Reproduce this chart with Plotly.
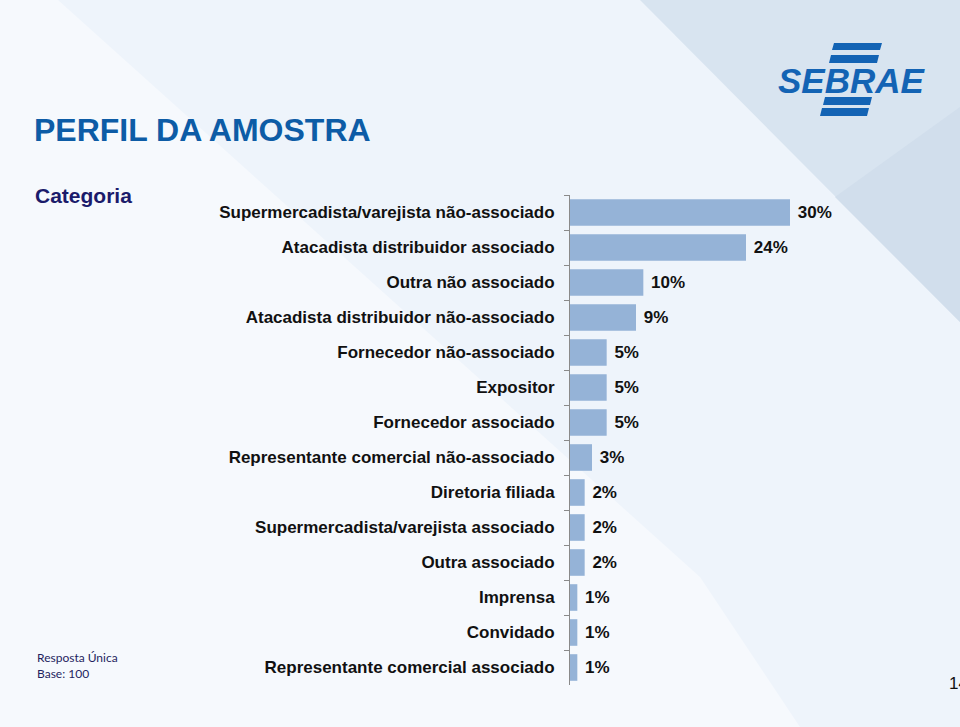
import plotly.graph_objects as go

categories = [
    "Supermercadista/varejista não-associado",
    "Atacadista distribuidor associado",
    "Outra não associado",
    "Atacadista distribuidor não-associado",
    "Fornecedor não-associado",
    "Expositor",
    "Fornecedor associado",
    "Representante comercial não-associado",
    "Diretoria filiada",
    "Supermercadista/varejista associado",
    "Outra associado",
    "Imprensa",
    "Convidado",
    "Representante comercial associado",
]
values = [30, 24, 10, 9, 5, 5, 5, 3, 2, 2, 2, 1, 1, 1]
value_labels = [f"\u00a0{v}%" for v in values]

W, H = 960, 727
ML, MR, MT, MB = 570, 126, 195, 42
PW, PH = W - ML - MR, H - MT - MB


def px(x):
    return (x - ML) / PW


def py(y):
    return 1 - (y - MT) / PH


def path(points):
    return "M " + " L ".join(f"{px(a):.5f},{py(b):.5f}" for a, b in points) + " Z"


FONT = "Liberation Sans, Arial, sans-serif"

fig = go.Figure(
    go.Bar(
        x=values,
        y=categories,
        orientation="h",
        marker=dict(color="#95b3d7", line=dict(width=0)),
        text=value_labels,
        textposition="outside",
        textfont=dict(family=FONT, size=17, color="#111111", weight="bold"),
        cliponaxis=False,
        hoverinfo="skip",
    )
)

shapes = []
# background decorations
shapes.append(dict(type="path", path=path([(0, 0), (58, 0), (700, 577), (800, 727), (0, 727)]),
                   xref="paper", yref="paper", fillcolor="#f6f9fd", line=dict(width=0), layer="below"))
shapes.append(dict(type="path", path=path([(640, 0), (960, 0), (960, 322)]),
                   xref="paper", yref="paper", fillcolor="#d8e4f0", line=dict(width=0), layer="below"))
shapes.append(dict(type="path", path=path([(960, 107), (835, 197), (960, 322)]),
                   xref="paper", yref="paper", fillcolor="#d1deec", line=dict(width=0), layer="below"))

# SEBRAE logo bars
LOGO = "#1363b4"
for (x0, x1, y0, y1) in [(832, 880, 43, 50), (829, 877, 55, 63), (823, 870, 97, 105), (820, 867, 108, 116)]:
    sl = 2
    shapes.append(dict(type="path", path=path([(x0 + sl, y0), (x1 + sl, y0), (x1, y1), (x0, y1)]),
                       xref="paper", yref="paper", fillcolor=LOGO, line=dict(width=0), layer="above"))

annotations = [
    dict(text="<b>PERFIL DA AMOSTRA</b>", x=px(32), y=py(130), xanchor="left", yanchor="middle",
         font=dict(family=FONT, size=32, color="#0d5ca6")),
    dict(text="<b>Categoria</b>", x=px(33), y=py(195), xanchor="left", yanchor="middle",
         font=dict(family=FONT, size=21, color="#1b1b6b")),
    dict(text="<b><i>SEBRAE</i></b>", x=px(852), y=py(80), xanchor="center", yanchor="middle",
         font=dict(family=FONT, size=35, color=LOGO)),
    dict(text="Resposta Única<br>Base: 100", x=px(35), y=py(665), xanchor="left", yanchor="middle",
         align="left", font=dict(family="Lato, sans-serif", size=12, color="#1f1f5f")),
    dict(text="14", x=px(947), y=py(683), xanchor="left", yanchor="middle",
         font=dict(family=FONT, size=17, color="#111111")),
]
for a in annotations:
    a.update(xref="paper", yref="paper", showarrow=False)

fig.update_layout(
    width=W,
    height=H,
    margin=dict(l=ML, r=MR, t=MT, b=MB, pad=0),
    paper_bgcolor="#eef4fb",
    plot_bgcolor="rgba(0,0,0,0)",
    bargap=0.24,
    showlegend=False,
    shapes=shapes,
    annotations=annotations,
    xaxis=dict(range=[0, 36], visible=False, fixedrange=True),
    yaxis=dict(
        type="category",
        categoryorder="array",
        categoryarray=categories,
        autorange="reversed",
        tickson="boundaries",
        ticks="outside",
        ticklen=5,
        tickcolor="#8a8a8a",
        showline=True,
        linecolor="#8a8a8a",
        linewidth=1,
        showgrid=False,
        zeroline=False,
        ticklabelstandoff=11,
        tickfont=dict(family=FONT, size=17, color="#111111", weight="bold"),
        fixedrange=True,
    ),
)

fig.write_html(
    "out.html",
    config={"displayModeBar": False},
    post_script="document.body.style.margin='0';document.body.style.overflow='hidden';",
)
